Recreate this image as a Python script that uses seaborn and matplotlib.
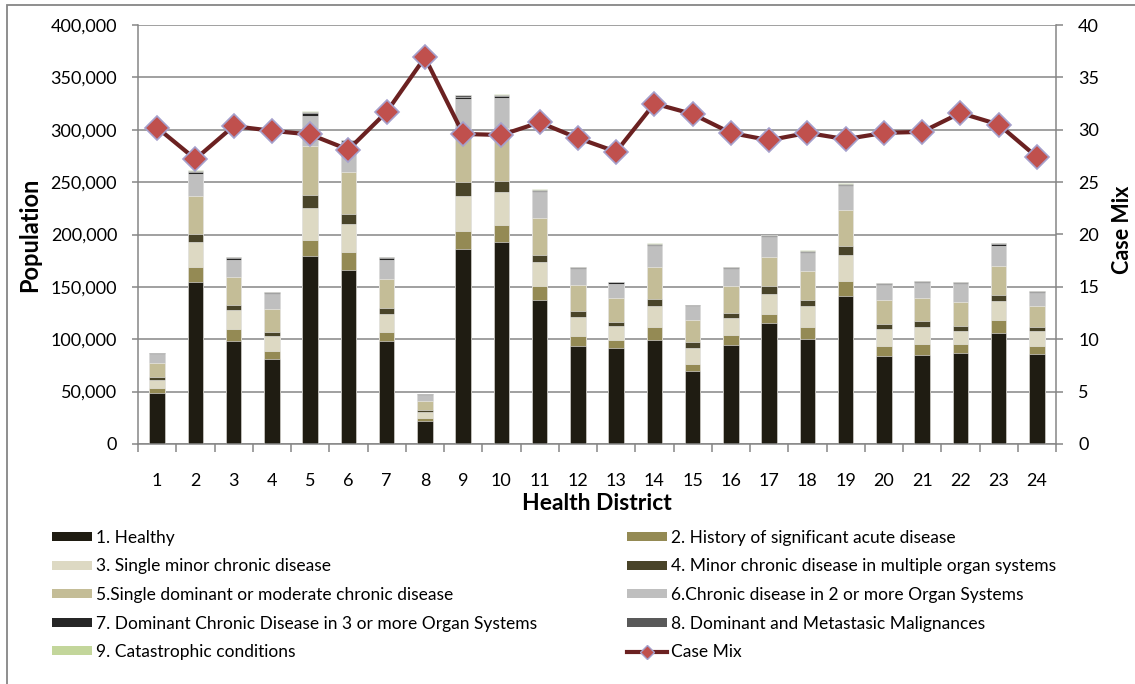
"""Population by health status per health district, with case mix on a second axis."""

import matplotlib.pyplot as plt
import numpy as np
import pandas as pd
import seaborn as sns
from matplotlib.lines import Line2D
from matplotlib.patches import Patch, Rectangle
from matplotlib.ticker import FuncFormatter, MultipleLocator

districts = [str(i) for i in range(1, 25)]

healthy = [48700, 154500, 98700, 81400, 179500, 166000, 98700, 21800, 185900, 192600, 137800, 93900,
           92000, 99700, 69500, 94900, 115100, 100300, 141700, 84300, 85300, 87200, 106400, 85600]
history_acute = [5100, 14400, 11500, 7700, 15000, 17300, 8300, 3200, 17300, 16700, 13500, 9600,
                 7400, 12200, 6700, 9600, 9300, 11200, 13800, 9600, 10600, 8000, 11500, 8300]
single_minor = [7700, 24400, 17300, 14100, 31100, 26900, 17300, 5100, 33300, 30800, 22400, 17600,
                13100, 20200, 15400, 15400, 18900, 19900, 25000, 16000, 16000, 13100, 18300, 14400]
minor_multi = [2600, 7400, 5400, 3800, 12200, 9300, 5800, 1900, 13200, 11200, 6700, 5400,
               4200, 6700, 5400, 5400, 7100, 6400, 8700, 5100, 5100, 4200, 5800, 3800]
single_dominant = [12800, 35900, 26300, 21800, 46500, 40400, 27200, 9000, 52200, 50000, 35600, 25000,
                   22400, 30100, 21200, 25300, 28200, 27200, 34600, 22400, 22400, 23100, 27600, 19200]
chronic_2plus = [9000, 21200, 16700, 14100, 29100, 26900, 18600, 5800, 27600, 28800, 24400, 15700,
                 14100, 20200, 13100, 16300, 18600, 17600, 22400, 14400, 14400, 17000, 19600, 13100]
dominant_3plus = [600, 1900, 1300, 1300, 2600, 1900, 1300, 600, 1900, 1900, 1300, 1000,
                  1000, 1300, 1000, 1000, 1300, 1000, 1300, 1000, 1000, 1000, 1300, 1000]
malignancies = [600, 1300, 1000, 800, 1300, 1200, 900, 500, 1300, 1300, 1200, 900,
                700, 1000, 600, 800, 1000, 900, 1000, 800, 800, 800, 1000, 700]
catastrophic = [200, 500, 300, 200, 500, 400, 300, 100, 800, 600, 500, 300,
                200, 300, 200, 300, 400, 300, 500, 300, 300, 300, 400, 200]

case_mix = [30.2, 27.2, 30.35, 29.9, 29.55, 28.1, 31.7, 36.9, 29.6, 29.5, 30.7, 29.2,
            27.9, 32.5, 31.5, 29.7, 29.0, 29.7, 29.1, 29.7, 29.8, 31.6, 30.5, 27.4]

labels = [
    "1. Healthy",
    "2. History of significant acute disease",
    "3. Single minor chronic disease",
    "4. Minor chronic disease in multiple organ systems",
    "5.Single dominant or moderate chronic disease",
    "6.Chronic disease in 2 or more Organ Systems",
    "7. Dominant Chronic Disease in 3 or more Organ Systems",
    "8. Dominant and Metastasic Malignances",
    "9. Catastrophic conditions",
]
colors = ["#1F1C12", "#948A54", "#DDD9C3", "#494429", "#C4BD97",
          "#BFBFBF", "#262626", "#595959", "#C3D69B"]

plt.rcParams["font.family"] = ["Lato", "DejaVu Sans"]
GRAY = "#868686"
W, H = 1135, 684

fig = plt.figure(figsize=(W / 100, H / 100), dpi=100)
ax = fig.add_axes([138 / W, 1 - 444 / H, (1056 - 138) / W, (444 - 25) / H])

# stacked bars: draw cumulative totals from the top layer down
layers = np.array([healthy, history_acute, single_minor, minor_multi, single_dominant,
                   chronic_2plus, dominant_3plus, malignancies, catastrophic])
cum = np.cumsum(layers, axis=0)
for k in range(len(layers) - 1, -1, -1):
    df = pd.DataFrame({"district": districts, "population": cum[k]})
    sns.barplot(data=df, x="district", y="population", order=districts, color=colors[k],
                saturation=1, width=0.4, edgecolor="#F2F2F2", linewidth=0.4, ax=ax)

ax.set_xlim(-0.5, 23.5)
ax.set_ylim(0, 400000)
ax.yaxis.set_major_locator(MultipleLocator(50000))
ax.yaxis.set_major_formatter(FuncFormatter(lambda v, p: f"{int(v):,}"))
ax.set_axisbelow(True)
ax.yaxis.grid(True, color=GRAY, linewidth=1.1)
ax.xaxis.set_minor_locator(MultipleLocator(1, offset=0.5))
ax.tick_params(axis="x", which="major", length=0, pad=21, labelsize=13)
ax.tick_params(axis="x", which="minor", length=6, width=1.1, color=GRAY)
ax.tick_params(axis="y", length=4, width=1.1, color=GRAY, pad=11, labelsize=13)
for side in ["top", "right"]:
    ax.spines[side].set_visible(False)
for side in ["left", "bottom"]:
    ax.spines[side].set_color(GRAY)
    ax.spines[side].set_linewidth(1.1)

ax.set_xlabel("Health District", fontsize=16.5, fontweight="bold")
ax.xaxis.set_label_coords(0.5, -0.117)
ax.set_ylabel("Population", fontsize=17, fontweight="bold")
ax.yaxis.set_label_coords(-0.106, 0.5)

# case mix line on the secondary axis
ax2 = ax.twinx()
sns.lineplot(x=np.arange(len(districts)), y=case_mix, ax=ax2, color="#6B2121", linewidth=3,
             marker="D", markersize=12, markerfacecolor="#C0504D",
             markeredgecolor="#A5A0CC", markeredgewidth=1.2)
ax2.set_xlim(-0.5, 23.5)
ax2.set_ylim(0, 40)
ax2.yaxis.set_major_locator(MultipleLocator(5))
ax2.tick_params(axis="y", length=5, width=1.1, color=GRAY, pad=11, labelsize=13)
for side in ["top", "left", "bottom"]:
    ax2.spines[side].set_visible(False)
ax2.spines["right"].set_color(GRAY)
ax2.spines["right"].set_linewidth(1.1)
ax2.set_ylabel("Case Mix", fontsize=15.5, fontweight="bold")
ax2.yaxis.set_label_coords(1.061, 0.51)

# legend: two columns, row-wise order like the original
handles = [Patch(facecolor=c, edgecolor="none") for c in colors]
line_handle = Line2D([], [], color="#6B2121", linewidth=3, marker="D", markersize=7,
                     markerfacecolor="#C0504D", markeredgecolor="#A5A0CC")
col_left = [0, 2, 4, 6, 8]
col_right = [1, 3, 5, 7]
leg_handles = [handles[i] for i in col_left] + [handles[i] for i in col_right] + [line_handle]
leg_labels = [labels[i] for i in col_left] + [labels[i] for i in col_right] + ["Case Mix"]
fig.legend(leg_handles, leg_labels, ncol=2, loc="upper left",
           bbox_to_anchor=(52 / W, 0, (1056 - 52) / W, 1 - 530 / H), mode="expand",
           frameon=False, fontsize=12.5, handlelength=2.3, handleheight=0.45,
           labelspacing=0.72, handletextpad=0.25, borderaxespad=0, borderpad=0)

# outer chart border (only left and top edges fall inside the image)
fig.add_artist(Rectangle((7 / W, -0.1), 1.2, 1.1 - 5 / H, transform=fig.transFigure,
                         fill=False, edgecolor=GRAY, linewidth=1.3))

fig.savefig("out.png", dpi=100)
